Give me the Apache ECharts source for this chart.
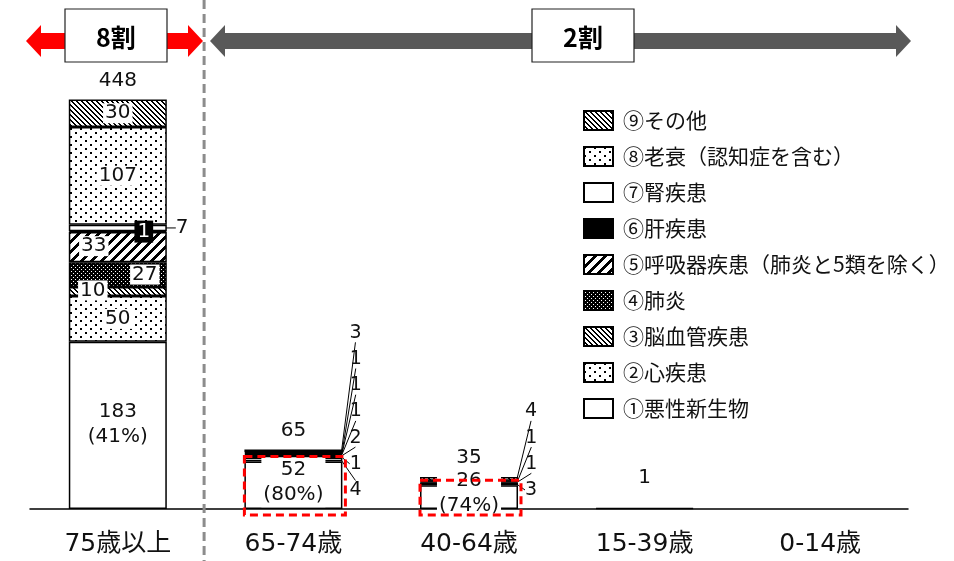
<!DOCTYPE html>
<html><head><meta charset="utf-8">
<script src="https://cdn.jsdelivr.net/npm/echarts@6/dist/echarts.min.js"></script>
<style>html,body{margin:0;padding:0;background:#fff}#c{width:954px;height:561px}</style>
</head><body><div id="c"></div>
<script>
// ---- data ----
const categories = ['75歳以上', '65-74歳', '40-64歳', '15-39歳', '0-14歳'];
const seriesNames = ['①悪性新生物', '②心疾患', '③脳血管疾患', '④肺炎', '⑤呼吸器疾患（肺炎と5類を除く）', '⑥肝疾患', '⑦腎疾患', '⑧老衰（認知症を含む）', '⑨その他'];
const v1 = [183, 52, 26, 1, 0];
const v2 = [50, 4, 3, 0, 0];
const v3 = [10, 1, 1, 0, 0];
const v4 = [27, 2, 0, 0, 0];
const v5 = [33, 1, 0, 0, 0];
const v6 = [1, 1, 1, 0, 0];
const v7 = [7, 1, 0, 0, 0];
const v8 = [107, 0, 0, 0, 0];
const v9 = [30, 3, 4, 0, 0];
const totals = [448, 65, 35, 1, 0];
const shares = ['41%', '80%', '74%', '', ''];
const bandLabels = ['8割', '2割'];
const highlightCats = [1, 2];

// ---- layout / style ----
const W = 954, H = 561, gridLeft = 30, gridRight = 46, gridTop = 52, gridBottom = 52;
const baseY = H - gridBottom;
const NUM_FONT = "'DejaVu Sans','Noto Sans CJK JP',sans-serif";
const JP_FONT = "'Noto Sans CJK JP',sans-serif";
const BAR_W = 98;

function makePattern(w, h, bg, fg, test) {
  const c = document.createElement('canvas');
  c.width = w; c.height = h;
  const ctx = c.getContext('2d');
  ctx.fillStyle = bg; ctx.fillRect(0, 0, w, h);
  ctx.fillStyle = fg;
  for (let y = 0; y < h; y++) for (let x = 0; x < w; x++) if (test(x, y)) ctx.fillRect(x, y, 1, 1);
  return { image: c, repeat: 'repeat' };
}
const hatch = makePattern(5, 5, '#fff', '#000', (x, y) => { const d = ((x - y) % 5 + 5) % 5; return d === 0 || d === 1; });
const dots = makePattern(10, 8, '#fff', '#000', (x, y) => (x < 2 && y < 2) || (x >= 5 && x < 7 && y >= 4 && y < 6));
const stripes = makePattern(10, 10, '#fff', '#000', (x, y) => (x + y) % 10 < 4);
const darkDots = makePattern(4, 4, '#000', '#fff', (x, y) => (x === 1 && y === 1) || (x === 3 && y === 3));
const fills = ['#fff', dots, hatch, darkDots, stripes, '#000', '#fff', dots, hatch];

const values = [v1, v2, v3, v4, v5, v6, v7, v8, v9];
const rank = values.map(() => []);
categories.forEach((c, i) => { let r = 0; for (let k = 1; k < values.length; k++) if (values[k][i] > 0) rank[k][i] = r++; });
const inOffset = { 2: [-25, -1], 3: [27, 0], 4: [-24, -1], 5: [26, 0] };
const mainDy = [-1, -3, -4];

function isMoved(k, i) {
  if (!values[k][i]) return false;
  if (i === 0 && k === 6) return true;
  return k >= 1 && (i === 1 || i === 2);
}
function itemLabel(k, i, v) {
  if (!v) return { show: false };
  if (k === 0) {
    if (!shares[i]) return { show: false };
    return { show: true, position: 'inside', formatter: v + '\n(' + shares[i] + ')', lineHeight: 25, backgroundColor: '#fff', padding: [0, 2] };
  }
  if (i === 0) {
    if (k === 6) return { show: true, position: 'right' };
    if (k === 5) return { show: true, position: 'inside', backgroundColor: '#000', color: '#fff', padding: [1, 3] };
    return { show: true, position: 'inside', backgroundColor: '#fff', padding: [0, 2] };
  }
  return { show: true, position: 'right', fontSize: 19 };
}
function layoutFn(p) {
  const k = p.seriesIndex, i = p.dataIndex;
  if (isMoved(k, i)) {
    if (i === 0) return { x: p.rect.x + p.rect.width + 9, y: p.rect.y + p.rect.height / 2, align: 'left', verticalAlign: 'middle' };
    return { x: p.rect.x + p.rect.width + 7, y: baseY - 19 - 26.2 * rank[k][i], align: 'left', verticalAlign: 'middle' };
  }
  if (k === 0 && i < mainDy.length) return { dy: mainDy[i] };
  if (i === 0 && inOffset[k]) return { dx: inOffset[k][0], dy: inOffset[k][1] };
  return {};
}

const series = values.map((vals, k) => ({
  name: seriesNames[k], type: 'bar', stack: 'total', barWidth: BAR_W,
  itemStyle: { color: fills[k], borderColor: '#000', borderWidth: 1.5 },
  label: { color: '#111', fontSize: 20, fontFamily: NUM_FONT },
  labelLine: { show: true, lineStyle: { color: '#000', width: 1 } },
  labelLayout: layoutFn,
  emphasis: { disabled: true },
  data: vals.map((v, i) => ({ value: v ? v : '-', label: itemLabel(k, i, v), labelLine: { show: isMoved(k, i) } }))
}));
// invisible cap on top of each stack that carries the total label
series.push({
  name: 'total', type: 'bar', stack: 'total', barWidth: BAR_W, silent: true,
  itemStyle: { color: 'rgba(0,0,0,0)', borderWidth: 0 },
  label: { show: true, position: 'top', color: '#111', fontSize: 20, fontFamily: NUM_FONT },
  data: totals.map((t, i) => ({ value: t ? 1e-6 : '-', label: { formatter: String(t), distance: i === 3 ? 20 : 9 } }))
});

const chart = echarts.init(document.getElementById('c'));
chart.setOption({
  animation: false,
  backgroundColor: '#fff',
  grid: { left: gridLeft, right: gridRight, top: gridTop, bottom: gridBottom },
  xAxis: {
    type: 'category', data: categories,
    axisLine: { lineStyle: { color: '#000', width: 1.5 } },
    axisTick: { show: false },
    axisLabel: { fontSize: 25, color: '#111', margin: 23, fontFamily: NUM_FONT }
  },
  yAxis: { type: 'value', min: 0, max: 500, show: false },
  legend: {
    orient: 'vertical', left: 583, top: 110, padding: 0, itemWidth: 29, itemHeight: 19, itemGap: 15,
    icon: 'rect', selectedMode: false,
    data: seriesNames.slice().reverse(),
    textStyle: { fontSize: 21, lineHeight: 19, color: '#111', fontFamily: JP_FONT, padding: [0, 0, 0, 5] }
  },
  series: series
});

// ---- annotations computed from the chart's scales ----
const px = i => chart.convertToPixel({ gridIndex: 0 }, [i, 0]);
const sepX = (px(0)[0] + px(1)[0]) / 2;
const graphics = [];
graphics.push({ type: 'line', z: 50, shape: { x1: sepX - 1.5, y1: 0, x2: sepX - 1.5, y2: H }, style: { stroke: '#8c8c8c', lineWidth: 3, lineDash: [9, 5] } });
function arrow(x1, x2, color) {
  const h = 15, yc = 41, s = 8, hw = 16;
  return { type: 'polygon', z: 50, shape: { points: [[x1, yc], [x1 + h, yc - hw], [x1 + h, yc - s], [x2 - h, yc - s], [x2 - h, yc - hw], [x2, yc], [x2 - h, yc + hw], [x2 - h, yc + s], [x1 + h, yc + s], [x1 + h, yc + hw]] }, style: { fill: color } };
}
graphics.push(arrow(26, 203, '#ff0000'));
graphics.push(arrow(210, 911, '#595959'));
[[65, bandLabels[0]], [532, bandLabels[1]]].forEach(([bx, t]) => {
  graphics.push({ type: 'rect', z: 51, shape: { x: bx, y: 9, width: 102, height: 53 }, style: { fill: '#fff', stroke: '#222', lineWidth: 1.2 } });
  graphics.push({ type: 'text', z: 52, x: bx + 51, y: 37, style: { text: t, fontSize: 25, fontWeight: 'bold', fontFamily: JP_FONT, fill: '#000', align: 'center', verticalAlign: 'middle' } });
});
highlightCats.forEach(i => {
  const cx = px(i)[0];
  const top = chart.convertToPixel({ gridIndex: 0 }, [i, v1[i]])[1];
  graphics.push({ type: 'rect', z: 60, shape: { x: cx - BAR_W / 2, y: top - 5, width: BAR_W + 3, height: baseY - top + 11 }, style: { fill: 'none', stroke: '#ff0000', lineWidth: 3, lineDash: [8, 5] } });
});
chart.setOption({ graphic: graphics });
</script>
</body></html>
